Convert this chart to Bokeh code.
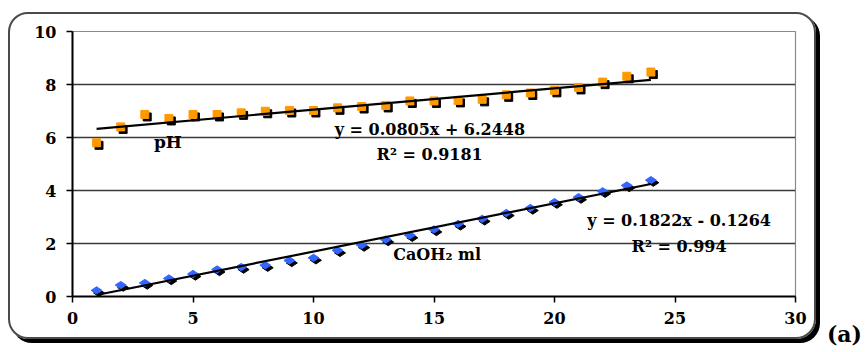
import numpy as np
from bokeh.plotting import figure
from bokeh.models import Range1d, Label, ColumnDataSource, InlineStyleSheet
from bokeh.transform import dodge
from bokeh.embed import file_html
from bokeh.resources import INLINE

# ---- data ----
x_vals = list(range(1, 25))
ph_vals = [5.80, 6.40, 6.87, 6.72, 6.87, 6.87, 6.93, 6.99, 7.02, 7.02, 7.12, 7.17,
           7.21, 7.38, 7.38, 7.40, 7.44, 7.61, 7.68, 7.78, 7.89, 8.09, 8.31, 8.47]
caoh_vals = [0.23, 0.43, 0.51, 0.68, 0.85, 1.02, 1.11, 1.18, 1.36, 1.46, 1.74, 1.94,
             2.15, 2.31, 2.53, 2.74, 2.93, 3.15, 3.34, 3.56, 3.75, 3.97, 4.19, 4.39]
x_ticks = [0, 5, 10, 15, 20, 25, 30]
y_ticks = [0, 2, 4, 6, 8, 10]
ph_fit = (0.0805, 6.2448)
caoh_fit = (0.1822, -0.1264)
ph_name = "pH"
caoh_name = "CaOH\u2082 ml"
ph_eq = "y = 0.0805x + 6.2448"
ph_r2 = "R\u00b2 = 0.9181"
caoh_eq = "y = 0.1822x - 0.1264"
caoh_r2 = "R\u00b2 = 0.994"
panel_tag = "(a)"

FONT = "DejaVu Serif"

src = ColumnDataSource(dict(x=x_vals, ph=ph_vals, caoh=caoh_vals))

p = figure(width=865, height=352, output_backend="svg", toolbar_location=None,
           x_range=Range1d(0, 30), y_range=Range1d(0, 10),
           min_border_left=72, min_border_right=70, min_border_top=31, min_border_bottom=56)
p.background_fill_color = "white"
p.border_fill_color = "white"
p.outline_line_color = "#8a8a8a"
p.outline_line_width = 1.2

# rounded chart-area border with a hard shadow (pure CSS decoration)
p.stylesheets = [InlineStyleSheet(css="""
:host { position: relative; }
:host::after {
  content: "";
  position: absolute;
  left: 8px; top: 12px; width: 808px; height: 327px;
  box-sizing: border-box;
  border: 2.5px solid #4a4a4a;
  border-radius: 20px;
  box-shadow: 4px 4px 0 0 #000;
  pointer-events: none;
}
""")]

# axes
for ax in (p.xaxis[0], p.yaxis[0]):
    ax.axis_line_color = "black"
    ax.axis_line_width = 2
    ax.major_tick_line_color = "black"
    ax.major_tick_line_width = 1.5
    ax.major_tick_out = 6
    ax.major_tick_in = 0
    ax.minor_tick_line_color = None
    ax.major_label_text_font = FONT
    ax.major_label_text_font_style = "bold"
    ax.major_label_text_font_size = "16px"
    ax.major_label_text_color = "black"
p.xaxis.ticker = x_ticks
p.yaxis.ticker = y_ticks
p.xaxis.major_label_standoff = 9
p.yaxis.major_label_standoff = 10

p.xgrid.grid_line_color = None
p.ygrid.grid_line_color = "#3a3a3a"
p.ygrid.grid_line_width = 1.3

# pH series (orange squares with black shadow)
p.scatter(dodge("x", 0.1), dodge("ph", -0.095), source=src, marker="square",
          size=8, fill_color="black", line_color="black")
p.scatter("x", "ph", source=src, marker="square", size=8,
          fill_color="#FF9900", line_color="#FF9900")
# CaOH2 series (blue diamonds with black shadow)
p.scatter(dodge("x", 0.1), dodge("caoh", -0.095), source=src, marker="diamond",
          angle=np.pi / 2, size=11, fill_color="black", line_color="black")
p.scatter("x", "caoh", source=src, marker="diamond", angle=np.pi / 2, size=11,
          fill_color="#3366FF", line_color="#3366FF")

# linear trendlines
xf = np.array([min(x_vals), max(x_vals)], dtype=float)
p.line(xf, ph_fit[0] * xf + ph_fit[1], line_color="black", line_width=2.2)
p.line(xf, caoh_fit[0] * xf + caoh_fit[1], line_color="black", line_width=2.2)

def lab(x, y, text, size="16px", place="center"):
    lb = Label(x=x, y=y, text=text, text_font=FONT, text_font_style="bold",
               text_font_size=size, text_color="black", text_align="center",
               text_baseline="middle")
    if place == "center":
        p.add_layout(lb)
    else:
        p.add_layout(lb, place)

lab(3.96, 5.82, ph_name, "17px")
lab(14.83, 6.29, ph_eq)
lab(14.82, 5.35, ph_r2)
lab(15.13, 1.58, caoh_name)
lab(25.17, 2.87, caoh_eq)
lab(25.17, 1.87, caoh_r2)
lab(32.03, -1.43, panel_tag, "22px", "right")

open("out.html", "w").write(file_html(p, INLINE))
